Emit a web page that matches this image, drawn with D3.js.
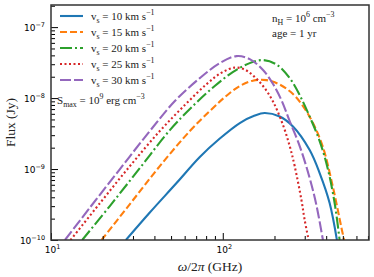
<!DOCTYPE html>
<html>
<head>
<meta charset="utf-8">
<script src="https://cdn.jsdelivr.net/npm/d3@7"></script>
<style>
  body { margin: 0; background: #fff; }
  text { font-family: "Liberation Serif", serif; fill: #222; }
  .tick-label { font-family: "DejaVu Sans", sans-serif; fill: #000; }
</style>
</head>
<body>
<svg id="chart" width="374" height="277"></svg>
<script>
// shock speeds (km/s) and their spectra
var speeds = [10, 15, 20, 25, 30];

var freq_v10 = [27.3, 37.6, 53.8, 73.5, 96.1, 125.6, 153.5, 175.4, 214.5, 256.3, 320.5, 366.4, 418.8, 461.8];
var flux_v10 = [1.0e-10, 2.44e-10, 6.35e-10, 1.48e-9, 2.69e-9, 4.45e-9, 5.67e-9, 6.15e-9, 5.49e-9, 3.97e-9, 1.85e-9, 8.78e-10, 3.32e-10, 1.0e-10];

var freq_v15 = [19.7, 28.8, 43.0, 64.3, 84.0, 102.7, 125.6, 149.5, 179.5, 214.5, 256.3, 293.1, 335, 382.9, 437.8, 489.8, 508.6];
var flux_v15 = [1.0e-10, 3.21e-10, 1.10e-9, 3.43e-9, 6.56e-9, 1.03e-8, 1.48e-8, 1.76e-8, 1.79e-8, 1.55e-8, 1.14e-8, 7.72e-9, 4.45e-9, 2.04e-9, 5.58e-10, 1.52e-10, 1.0e-10];

var freq_v20 = [15.2, 22.0, 32.9, 49.2, 68.8, 89.8, 114.3, 143.5, 170.8, 206.1, 245.2, 280.4, 320.5, 366.4, 407.8, 447.9, 478.8];
var flux_v20 = [1.0e-10, 3.01e-10, 1.03e-9, 3.54e-9, 8.23e-9, 1.48e-8, 2.32e-8, 3.11e-8, 3.43e-8, 2.96e-8, 1.91e-8, 1.10e-8, 5.49e-9, 2.48e-9, 1.03e-9, 3.32e-10, 1.0e-10];

var freq_v25 = [13.0, 19.3, 28.8, 43.0, 60.1, 80.7, 98.7, 117.5, 134.2, 151.4, 171.5, 196.1, 224.2, 245.2, 262.2, 287.0, 299.8, 316.2];
var flux_v25 = [1.0e-10, 3.32e-10, 1.10e-9, 3.43e-9, 7.97e-9, 1.58e-8, 2.29e-8, 2.69e-8, 2.52e-8, 2.04e-8, 1.48e-8, 8.93e-9, 4.17e-9, 2.11e-9, 1.10e-9, 3.66e-10, 1.91e-10, 1.0e-10];

var freq_v30 = [12.06, 16.86, 25.2, 37.6, 52.6, 73.5, 96.1, 120.2, 143.5, 171.5, 196.1, 219.5, 245.2, 280.4, 320.5, 350.7, 382.9];
var flux_v30 = [1.0e-10, 2.87e-10, 1.0e-9, 3.43e-9, 9.07e-9, 1.91e-8, 3.11e-8, 3.90e-8, 3.54e-8, 2.48e-8, 1.58e-8, 9.37e-9, 4.74e-9, 2.11e-9, 7.47e-10, 3.11e-10, 1.0e-10];

var xMajor = [10, 100];
var xMinor = [20, 30, 40, 50, 60, 70, 80, 90, 200, 300, 400, 500, 600, 700];
var xExp = ["1", "2"];
var yMajor = [1e-10, 1e-9, 1e-8, 1e-7];
var yMinor = [2e-10, 3e-10, 4e-10, 5e-10, 6e-10, 7e-10, 8e-10, 9e-10,
              2e-9, 3e-9, 4e-9, 5e-9, 6e-9, 7e-9, 8e-9, 9e-9,
              2e-8, 3e-8, 4e-8, 5e-8, 6e-8, 7e-8, 8e-8, 9e-8, 2e-7];
var yExp = ["\u221210", "\u22129", "\u22128", "\u22127"];

var colors = ["#1f77b4", "#ff7f0e", "#2ca02c", "#d62728", "#9467bd"];
var dashes = [null, "7,3", "12,3,2,3", "2,2.5", "11,3"];

var series = [
  { v: speeds[0], f: freq_v10, s: flux_v10 },
  { v: speeds[1], f: freq_v15, s: flux_v15 },
  { v: speeds[2], f: freq_v20, s: flux_v20 },
  { v: speeds[3], f: freq_v25, s: flux_v25 },
  { v: speeds[4], f: freq_v30, s: flux_v30 }
];

var svg = d3.select("#chart");
var L = 51, R = 369, T = 5, B = 240;

var x = d3.scaleLog().domain([10, 710]).range([L, R]);
var y = d3.scaleLog().domain([1e-10, 2.05e-7]).range([B, T]);

// text with sub/superscripts
function richText(g, tx, ty, parts, size, anchor) {
  var t = g.append("text").attr("x", tx).attr("y", ty)
    .style("font-size", size + "px").attr("text-anchor", anchor || "start");
  var cur = 0;
  parts.forEach(function(p) {
    var target = 0, fs = size;
    if (p[1] == "sub") { target = size * 0.3; fs = size * 0.72; }
    if (p[1] == "sup") { target = -size * 0.42; fs = size * 0.72; }
    var sp = t.append("tspan").text(p[0]).style("font-size", fs + "px");
    if (target != cur) sp.attr("dy", target - cur);
    if (p[1] == "it") sp.style("font-style", "italic");
    cur = target;
  });
  return t;
}

svg.append("clipPath").attr("id", "clip").append("rect")
  .attr("x", L).attr("y", T).attr("width", R - L).attr("height", B - T);

// curves
var line = d3.line()
  .x(function(d) { return x(d[0]); })
  .y(function(d) { return y(d[1]); })
  .curve(d3.curveCatmullRom.alpha(0.5));

series.forEach(function(sr, i) {
  var pts = sr.f.map(function(f, k) { return [f, sr.s[k]]; });
  svg.append("path")
    .attr("clip-path", "url(#clip)")
    .attr("d", line(pts))
    .attr("fill", "none")
    .attr("stroke", colors[i])
    .attr("stroke-width", 2.1)
    .attr("stroke-dasharray", dashes[i]);
});

// axes, ticks inward
var xAx = svg.append("g").attr("transform", "translate(0," + B + ")");
xAx.call(d3.axisBottom(x).tickValues(xMajor).tickSize(-7).tickFormat(""));
xAx.append("g").call(d3.axisBottom(x).tickValues(xMinor).tickSize(-4).tickFormat(""));
var yAx = svg.append("g").attr("transform", "translate(" + L + ",0)");
yAx.call(d3.axisLeft(y).tickValues(yMajor).tickSize(-7).tickFormat(""));
yAx.append("g").call(d3.axisLeft(y).tickValues(yMinor).tickSize(-4).tickFormat(""));
svg.selectAll(".domain").remove();
svg.selectAll(".tick line").attr("stroke", "#000").attr("stroke-width", 1);

xMajor.forEach(function(v, i) {
  richText(svg, x(v) + 1.5, B + 13, [["10"], [xExp[i], "sup"]], 9, "middle").attr("class", "tick-label");
});
yMajor.forEach(function(v, i) {
  richText(svg, L - 6, y(v) + 3.5, [["10"], [yExp[i], "sup"]], 9, "end").attr("class", "tick-label");
});

// frame
svg.append("rect").attr("x", L).attr("y", T).attr("width", R - L).attr("height", B - T)
  .attr("fill", "none").attr("stroke", "#333").attr("stroke-width", 1.5);

// axis titles
richText(svg, (L + R) / 2, 271, [["\u03c9", "it"], ["/2"], ["\u03c0", "it"], [" (GHz)"]], 13.5, "middle");
var yt = svg.append("g").attr("transform", "translate(15," + ((T + B) / 2) + ") rotate(-90)");
richText(yt, 0, 0, [["Flux (Jy)"]], 13.5, "middle");

// legend
var lg = svg.append("g");
series.forEach(function(sr, i) {
  var ly = 16 + 16 * i;
  lg.append("line").attr("x1", 60).attr("x2", 83).attr("y1", ly).attr("y2", ly)
    .attr("stroke", colors[i]).attr("stroke-width", 2.1)
    .attr("stroke-dasharray", dashes[i]);
  richText(lg, 91, ly + 3.5, [["v"], ["s", "sub"], [" = " + sr.v + " km s"], ["\u22121", "sup"]], 11);
});

// annotations
richText(svg, 272, 22, [["n"], ["H", "sub"], [" = 10"], ["6", "sup"], [" cm"], ["\u22123", "sup"]], 11);
richText(svg, 272, 37, [["age = 1 yr"]], 11);
richText(svg, 57, 104, [["S"], ["max", "sub"], [" = 10"], ["9", "sup"], [" erg cm"], ["\u22123", "sup"]], 11);
</script>
</body>
</html>
